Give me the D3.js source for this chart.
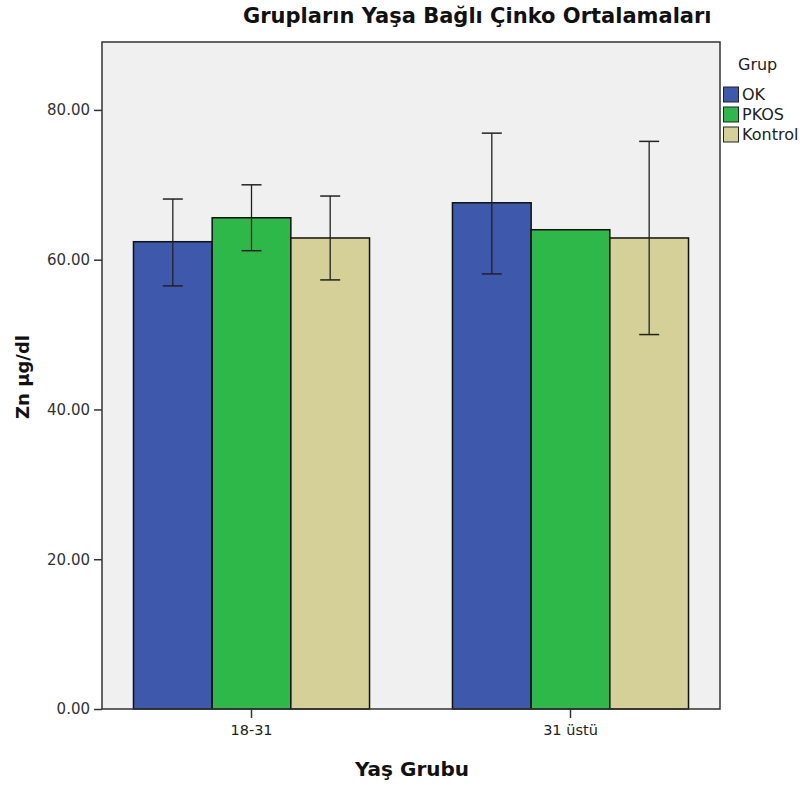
<!DOCTYPE html>
<html><head><meta charset="utf-8">
<script src="https://cdn.jsdelivr.net/npm/d3@7"></script>
<style>body{margin:0;background:#fff;} text{font-family:"DejaVu Sans",sans-serif;}</style>
</head><body>
<svg id="c" width="800" height="789"></svg>
<script>
const categories = ["18-31", "31 üstü"];
const groups = ["OK", "PKOS", "Kontrol"];
const colors = ["#3e58ac", "#2fb84a", "#d5cf98"];
const means = [[62.4, 65.6, 62.9], [67.6, 64.0, 62.9]];
const errLow = [[56.5, 61.2, 57.3], [58.1, null, 50.0]];
const errHigh = [[68.1, 70.0, 68.5], [76.9, null, 75.8]];
const yTicks = [0, 20, 40, 60, 80];

const FONT = "DejaVu Sans, sans-serif";
const svg = d3.select("#c");
const L = 102, R = 720, T = 42, B = 709;
const y = d3.scaleLinear().domain([0, 89.07]).range([B, T]);
const x0 = d3.scaleBand().domain(categories).range([L, R]).paddingInner(0.26).paddingOuter(0.0987);
const x1 = d3.scaleBand().domain(groups).range([0, x0.bandwidth()]);

svg.append("rect").attr("x", L).attr("y", T).attr("width", R - L).attr("height", B - T)
  .attr("fill", "#f0f0f0");

const data = [];
categories.forEach((c, i) => groups.forEach((g, j) => data.push({c, g, j, v: means[i][j], lo: errLow[i][j], hi: errHigh[i][j]})));

svg.selectAll("rect.bar").data(data).enter().append("rect").attr("class", "bar")
  .attr("x", d => x0(d.c) + x1(d.g)).attr("width", x1.bandwidth())
  .attr("y", d => y(d.v)).attr("height", d => B - y(d.v))
  .attr("fill", d => colors[d.j]).attr("stroke", "#111").attr("stroke-width", 1.5);

const eb = data.filter(d => d.lo != null);
const cx = d => x0(d.c) + x1(d.g) + x1.bandwidth() / 2;
svg.selectAll("line.eb").data(eb).enter().append("line")
  .attr("x1", cx).attr("x2", cx).attr("y1", d => y(d.lo)).attr("y2", d => y(d.hi))
  .attr("stroke", "#222").attr("stroke-width", 1.3);
["lo", "hi"].forEach(k => {
  svg.selectAll("line.cap" + k).data(eb).enter().append("line")
    .attr("x1", d => cx(d) - 10).attr("x2", d => cx(d) + 10)
    .attr("y1", d => y(d[k])).attr("y2", d => y(d[k]))
    .attr("stroke", "#222").attr("stroke-width", 1.5);
});

// frame
svg.append("rect").attr("x", L).attr("y", T).attr("width", R - L).attr("height", B - T)
  .attr("fill", "none").attr("stroke", "#333").attr("stroke-width", 1.5);

// y axis
const ya = svg.append("g").attr("transform", `translate(${L},0)`)
  .call(d3.axisLeft(y).tickValues(yTicks).tickFormat(d3.format(".2f")).tickSize(8).tickPadding(4));
ya.select(".domain").remove();
ya.selectAll("line").attr("stroke", "#333").attr("stroke-width", 1.5);
ya.selectAll("text").attr("font-size", 15).attr("fill", "#333").attr("font-family", FONT);

// x axis
const xa = svg.append("g").attr("transform", `translate(0,${B})`)
  .call(d3.axisBottom(x0).tickSize(9).tickPadding(7));
xa.select(".domain").remove();
xa.selectAll("line").attr("stroke", "#333").attr("stroke-width", 1.5);
xa.selectAll("text").attr("font-size", 14.5).attr("fill", "#222").attr("font-family", FONT);

// titles
svg.append("text").attr("x", 243).attr("y", 23).attr("text-anchor", "start")
  .attr("font-size", 21).attr("font-weight", "bold").attr("fill", "#111")
  .text("Grupların Yaşa Bağlı Çinko Ortalamaları");
svg.append("text").attr("x", 412).attr("y", 776).attr("text-anchor", "middle")
  .attr("font-size", 20).attr("font-weight", "bold").attr("fill", "#111").text("Yaş Grubu");
svg.append("text").attr("transform", "translate(29,377) rotate(-90)").attr("text-anchor", "middle")
  .attr("font-size", 18).attr("font-weight", "bold").attr("fill", "#111").text("Zn µg/dl");

// legend
svg.append("text").attr("x", 738).attr("y", 70).attr("font-size", 16).attr("fill", "#222").text("Grup");
groups.forEach((g, j) => {
  const yy = 87 + j * 20;
  svg.append("rect").attr("x", 723.5).attr("y", yy).attr("width", 15).attr("height", 15)
    .attr("fill", colors[j]).attr("stroke", "#222").attr("stroke-width", 1);
  svg.append("text").attr("x", 742).attr("y", yy + 13).attr("font-size", 16).attr("fill", "#222").text(g);
});
</script>
</body></html>
